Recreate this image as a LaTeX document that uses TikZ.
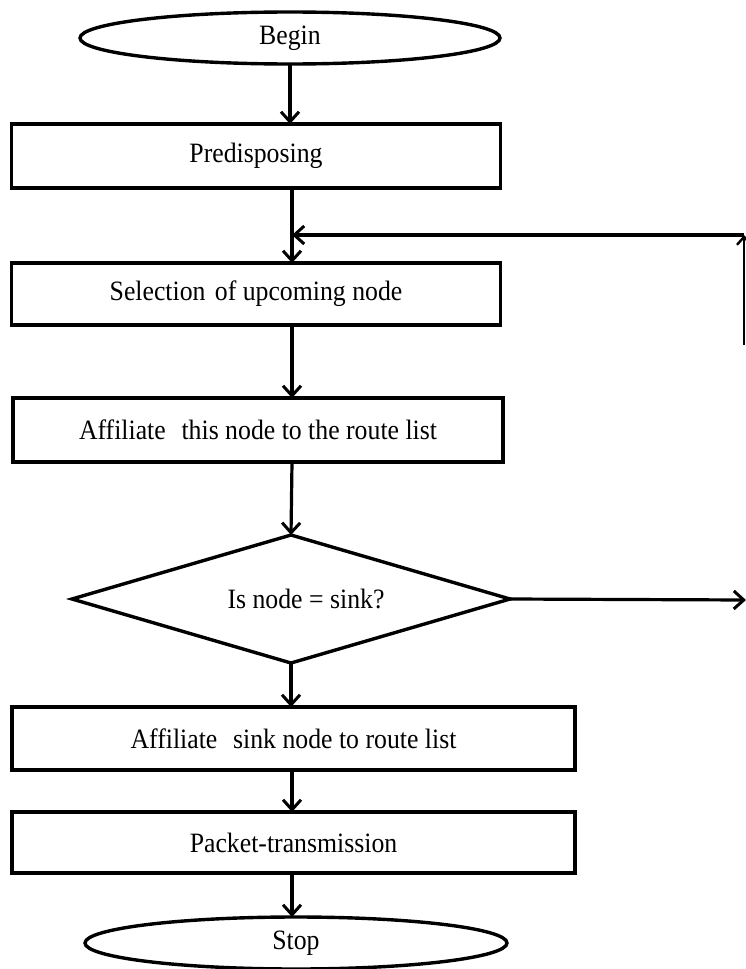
\documentclass[tikz,border=0pt]{standalone}
\usepackage{fontspec}
\setmainfont[FakeStretch=0.92]{Liberation Serif}
\usetikzlibrary{shapes.geometric,arrows.meta}
\begin{document}
\begin{tikzpicture}[x=1pt,y=-1pt,
  box/.style={font=\fontsize{28}{30}\selectfont, inner sep=0pt, outer sep=0pt},
  term/.style={box, ellipse, minimum width=420pt, minimum height=52pt},
  proc/.style={box, rectangle, minimum height=64pt},
  dec/.style={box, diamond, aspect=3.4, minimum width=438pt, minimum height=128pt},
  border/.style={line width=3.4pt, line join=miter},
  conn/.style={line width=3.2pt, -{Straight Barb[length=10pt,width=18pt,line width=3pt]}}
]
\useasboundingbox (0,0) rectangle (746,969);
\node[term] (begin) at (290,38) {Begin};
\node[proc, minimum width=489pt] (pre) at (256,156) {Predisposing};
\node[proc, minimum width=489pt, minimum height=62pt] (sel) at (256,294) {Selection\,\,of upcoming node};
\node[proc, minimum width=490pt] (aff) at (258,430) {Affiliate\,\, this node to the route list};
\node[dec] (dec) at (291,599) {\hspace*{30pt}Is node = sink?};
\node[proc, minimum width=563pt, minimum height=63pt] (sink) at (293.5,738.5) {Affiliate\,\, sink node to route list};
\node[proc, minimum width=563pt, minimum height=61pt] (pkt) at (293.5,842.5) {Packet-transmission};
\node[term, minimum width=422pt] (stop) at (296,943) {Stop};

% borders
\draw[border] (begin.center) ellipse [x radius=210, y radius=26];
\draw[border] (stop.center) ellipse [x radius=211, y radius=26];
\foreach \n in {pre,sel,aff,sink,pkt}
  \draw[border] (\n.north west) rectangle (\n.south east);
\draw[border] (dec.north) -- (dec.east) -- (dec.south) -- (dec.west) -- cycle;

\coordinate (out) at (746,600);
\coordinate (rtop) at (744,235);
\coordinate (rbot) at (744,345);
\coordinate (join) at (292,235);

\draw[conn] (begin.south -| 290,0) -- (pre.north -| 290,0);
\draw[conn] (pre.south -| join) -- (sel.north -| join);
\draw[conn] (rtop) -- (join);
\draw[conn] (sel.south -| join) -- (aff.north -| join);
\draw[conn] (aff.south -| join) -- (dec.north);
\draw[conn] (dec.south) -- (sink.north -| dec.south);
\draw[conn] (sink.south -| join) -- (pkt.north -| join);
\draw[conn] (pkt.south -| join) -- (stop.north -| join);
\draw[conn] (dec.east) -- (out);
\draw[line width=2pt, -{Straight Barb[length=8pt,width=14pt,line width=2.4pt]}] (rbot) -- (rtop);
\end{tikzpicture}
\end{document}
